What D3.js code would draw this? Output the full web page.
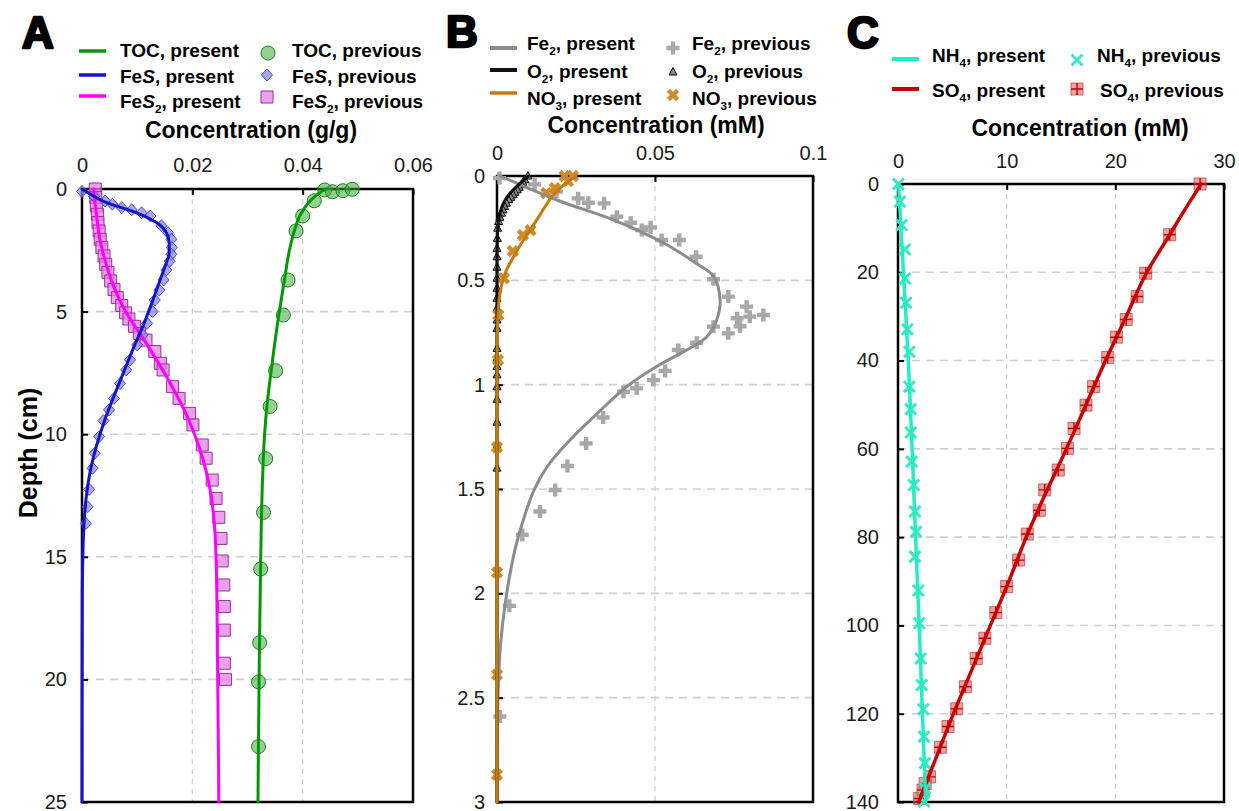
<!DOCTYPE html>
<html>
<head>
<meta charset="utf-8">
<script src="https://cdn.jsdelivr.net/npm/d3@7"></script>
<style>
  body { margin: 0; background: #fff; }
  svg { display: block; }
</style>
</head>
<body>
<svg id="chart" width="1239" height="811"></svg>
<script>
// ---- data: [depth, concentration] ----
// panel A (g/g)
var tocPresent = [[0,0.0442],[0.2,0.0428],[0.5,0.0413],[1,0.0397],[1.7,0.0385],[2.5,0.0376],[3.7,0.0367],[5.1,0.0357],[7.4,0.0343],[8.9,0.0335],[10,0.0331],[12,0.0327],[15,0.0324],[20,0.0321],[25,0.0319]];
var tocPrevious = [[0.04,0.0440],[0.11,0.0454],[0.07,0.0473],[0.01,0.0490],[0.48,0.0421],[1.1,0.0400],[1.71,0.0388],[3.71,0.03735],[5.14,0.0365],[7.41,0.0351],[8.87,0.0341],[11.0,0.0333],[13.19,0.0329],[15.5,0.0324],[18.5,0.0322],[20.1,0.0320],[22.74,0.0320]];
var fesPresent = [[0,0.0],[0.25,0.0018],[0.56,0.0045],[0.97,0.0099],[1.37,0.0135],[1.78,0.0153],[2.2,0.0158],[2.6,0.0158],[3.0,0.0153],[3.5,0.0145],[4.5,0.0129],[5.5,0.0112],[6.5,0.0093],[7.5,0.0075],[8.5,0.0057],[9.5,0.0040],[10.5,0.0026],[11.5,0.0015],[12.5,0.0008],[13.5,0.0004],[15,0.00015],[17,0.00005],[25,0.0]];
var fesPrevious = [[0.1,0.0],[0.3,0.0022],[0.49,0.0042],[0.62,0.0055],[0.76,0.0072],[0.85,0.0090],[0.97,0.0108],[1.1,0.0124],[1.5,0.0144],[1.78,0.0156],[2.05,0.0162],[2.39,0.0163],[2.66,0.0162],[2.94,0.0159],[3.3,0.0153],[3.71,0.0148],[4.12,0.0140],[4.53,0.0132],[5.0,0.0128],[5.48,0.0118],[5.95,0.0110],[6.36,0.0100],[6.97,0.0087],[7.38,0.0080],[7.93,0.0069],[8.54,0.0058],[9.01,0.0049],[9.45,0.0039],[10.1,0.0031],[10.78,0.0023],[11.39,0.0019],[12.25,0.0013],[12.96,0.0010],[13.64,0.0007]];
var fes2Present = [[0,0.0021],[1,0.0026],[2,0.0032],[3,0.0043],[4,0.0058],[5,0.0079],[6,0.0108],[7,0.0136],[8,0.0162],[9,0.0185],[10,0.0204],[11,0.0219],[12,0.0230],[13,0.0237],[15,0.0243],[20,0.0246],[25,0.0248]];
var fes2Previous = [[0.0,0.0024],[0.35,0.0025],[0.69,0.0026],[1.03,0.0028],[1.37,0.0029],[1.71,0.0031],[2.05,0.0033],[2.39,0.0036],[2.73,0.0040],[3.07,0.0043],[3.4,0.0047],[3.75,0.0052],[4.1,0.0058],[4.43,0.0064],[4.75,0.0072],[5.05,0.0079],[5.3,0.0085],[5.6,0.0095],[5.9,0.0104],[6.16,0.0116],[6.63,0.0132],[7.11,0.0142],[7.38,0.0147],[8.06,0.0164],[8.54,0.0176],[9.15,0.0195],[9.62,0.0201],[10.44,0.0218],[10.98,0.0225],[11.87,0.0236],[12.62,0.0243],[13.39,0.0248],[14.25,0.0252],[15.17,0.0254],[16.15,0.0257],[17.03,0.0258],[17.99,0.0258],[19.34,0.0258],[20.0,0.0260]];

// panel B (mM)
var fe2Present = [[0,0.001],[0.115,0.0189],[0.21,0.0368],[0.32,0.0526],[0.42,0.0632],[0.48,0.0685],[0.594,0.0706],[0.69,0.0695],[0.77,0.0664],[0.834,0.0600],[0.913,0.0505],[1.01,0.0410],[1.14,0.0316],[1.265,0.0231],[1.39,0.0160],[1.505,0.0117],[1.65,0.0083],[1.81,0.0054],[2.05,0.0026],[2.25,0.0011],[2.5,0.0003],[2.75,0.0001],[3,0]];
var fe2Previous = [[0.01,0.0008],[0.04,0.0119],[0.074,0.0188],[0.107,0.0257],[0.128,0.0289],[0.131,0.0339],[0.195,0.0379],[0.224,0.0423],[0.259,0.0458],[0.246,0.0486],[0.307,0.0521],[0.307,0.0577],[0.387,0.0630],[0.495,0.0685],[0.578,0.0732],[0.626,0.0790],[0.666,0.0843],[0.674,0.0800],[0.682,0.0760],[0.72,0.0769],[0.754,0.0732],[0.722,0.0685],[0.799,0.0632],[0.834,0.0574],[0.934,0.0532],[0.978,0.0495],[1.018,0.0442],[1.034,0.0400],[1.157,0.0336],[1.282,0.0282],[1.39,0.0223],[1.505,0.0184],[1.608,0.0136],[1.72,0.0080],[2.06,0.0039],[2.59,0.0009]];
var o2Present = [[0,0.0099],[0.035,0.0073],[0.083,0.0041],[0.131,0.0020],[0.195,0.0007],[0.27,0.0002],[0.4,0.0],[3,0.0]];
var o2Previous = [[0,0.0098],[0.018,0.0088],[0.03,0.0082],[0.042,0.0077],[0.054,0.0070],[0.066,0.0064],[0.078,0.0057],[0.09,0.0051],[0.102,0.0044],[0.114,0.0037],[0.13,0.0030],[0.146,0.0024],[0.162,0.0019],[0.178,0.0014],[0.198,0.0009],[0.218,0.0005],[0.25,0.0002],[0.299,0.0001],[0.347,0],[0.387,0],[0.437,0],[0.49,0],[0.538,0],[0.586,0],[0.634,0],[0.69,0],[0.73,0],[0.826,0],[0.874,0],[0.913,0],[0.953,0],[1.01,0],[1.07,0],[1.18,0],[1.29,0],[1.40,0]];
var no3Present = [[0,0.0250],[0.081,0.0183],[0.201,0.0130],[0.297,0.0088],[0.377,0.0056],[0.473,0.0024],[0.6,0.0006],[0.8,0.0001],[1.2,0],[3,0]];
var no3Previous = [[0.0,0.0214],[0.0,0.0240],[0.025,0.0225],[0.058,0.0183],[0.082,0.0156],[0.26,0.0106],[0.283,0.0082],[0.36,0.0050],[0.49,0.0022],[0.666,0.0004],[0.882,0.0003],[1.30,0.0],[1.90,0.0],[2.39,0.0],[2.87,0.0]];

// panel C (mM)
var nh4Present = [[0,0.05],[20,0.5],[40,0.95],[60,1.3],[80,1.62],[100,1.95],[120,2.25],[140,2.55]];
var nh4Previous = [[0,0.03],[4,0.18],[9.3,0.34],[14.8,0.64],[21.4,0.64],[26.9,0.74],[32.9,0.86],[38,1.04],[45.9,1.04],[51,1.17],[56.3,1.17],[62.9,1.26],[68.2,1.45],[74.2,1.56],[78.8,1.66],[84.4,1.56],[92.1,1.87],[99.5,1.96],[107.5,2.09],[113.5,2.18],[119,2.33],[125.2,2.39],[131.2,2.48],[136.9,2.48],[139.9,2.4]];
var so4Present = [[0,27.9],[5,26.6],[11.5,25.0],[20,22.9],[30,21.0],[40,19.1],[50,17.3],[60,15.5],[70,13.6],[80,11.8],[90,10.2],[100,8.5],[110,6.8],[120,5.1],[130,3.5],[140,1.9]];
var so4Previous = [[0,27.8],[11.5,25.0],[20.2,22.8],[25.5,22.0],[30.7,21.0],[34.7,20.1],[39.3,19.3],[45.9,18.0],[50.1,17.3],[55.4,16.2],[59.9,15.6],[64.8,14.75],[69.3,13.5],[73.9,13.0],[79.3,11.9],[85.2,11.1],[91.2,10.0],[97.1,9.0],[102.9,8.0],[107.5,7.2],[113.9,6.2],[118.9,5.4],[122.9,4.6],[127.6,3.9],[134.3,2.9],[135.8,2.5],[137.3,2.3],[139.2,2.0]];

// ticks
var ticksAx = [0, 0.02, 0.04, 0.06], labelsAx = ["0", "0.02", "0.04", "0.06"];
var ticksAy = [0, 5, 10, 15, 20, 25];
var ticksBx = [0, 0.05, 0.1], labelsBx = ["0", "0.05", "0.1"];
var ticksBy = [0, 0.5, 1, 1.5, 2, 2.5, 3], labelsBy = ["0", "0.5", "1", "1.5", "2", "2.5", "3"];
var ticksCx = [0, 10, 20, 30];
var ticksCy = [0, 20, 40, 60, 80, 100, 120, 140];

var FONT = "'Liberation Sans', Arial, Helvetica, sans-serif";
var svg = d3.select("#chart");

// marker shapes
var shapes = {
	circle: "M7,0A7,7 0 1,1 -7,0A7,7 0 1,1 7,0Z",
	diamond: "M0,-6L5.5,0L0,6L-5.5,0Z",
	square: "M-6,-6H6V6H-6Z",
	plus: "M-2.2,-6.5H2.2V-2.2H6.5V2.2H2.2V6.5H-2.2V2.2H-6.5V-2.2H-2.2Z",
	triangle: "M0,-4.5L4,3L-4,3Z",
	xthin: "M-5.5,-5.5L5.5,5.5M5.5,-5.5L-5.5,5.5",
	cross: "M-6,0H6M0,-6V6"
};

var styles = {
	toc: {shape: "circle", fill: "rgba(60,170,60,0.55)", stroke: "#1f7f1f", sw: 1},
	fes: {shape: "diamond", fill: "rgba(140,140,230,0.75)", stroke: "#4a4ac8", sw: 1},
	fes2: {shape: "square", fill: "rgba(230,130,230,0.75)", stroke: "#9a2f9a", sw: 1},
	fe2: {shape: "plus", fill: "#a8a8a8", stroke: "none", sw: 0},
	o2: {shape: "triangle", fill: "#8a8a8a", stroke: "#000", sw: 1},
	no3: {shape: "plus", fill: "#d08a2a", stroke: "none", sw: 0, rot: 45},
	nh4: {shape: "xthin", fill: "none", stroke: "#3ee6c3", sw: 3},
	so4: {shape: "square", fill: "rgba(215,90,90,0.55)", stroke: "rgba(200,70,70,0.8)", sw: 1, inner: "#c00000"}
};

function drawMarker(g, st, px, py) {
	var m = g.append("g").attr("transform", "translate(" + px + "," + py + ")" + (st.rot ? " rotate(" + st.rot + ")" : ""));
	m.append("path").attr("d", shapes[st.shape])
		.attr("fill", st.fill).attr("stroke", st.stroke).attr("stroke-width", st.sw);
	if (st.inner) {
		m.append("path").attr("d", shapes.cross).attr("stroke", st.inner).attr("stroke-width", 1.4).attr("fill", "none");
	}
}

function drawPoints(g, data, x, y, st) {
	var gg = g.append("g");
	data.forEach(function(d) { drawMarker(gg, st, x(d[1]), y(d[0])); });
}

function drawLine(g, data, x, y, color, w, curve) {
	var line = d3.line()
		.x(function(d) { return x(d[1]); })
		.y(function(d) { return y(d[0]); })
		.curve(curve || d3.curveMonotoneY);
	g.append("path").datum(data).attr("d", line)
		.attr("fill", "none").attr("stroke", color).attr("stroke-width", w)
		.attr("stroke-linejoin", "round").attr("stroke-linecap", "round");
}

// bold text with subscripts / italics: parts are strings or {sub:..} / {it:..}
function richText(g, px, py, parts, size, anchor) {
	var t = g.append("text").attr("x", px).attr("y", py)
		.attr("font-family", FONT).attr("font-weight", "bold").attr("font-size", size)
		.attr("fill", "#000").attr("text-anchor", anchor || "start");
	var shift = 0;
	parts.forEach(function(p) {
		var s = t.append("tspan");
		if (typeof p === "string") {
			s.text(p);
			if (shift) { s.attr("dy", -shift); shift = 0; }
		} else if (p.sub) {
			shift = Math.round(size * 0.25);
			s.text(p.sub).attr("font-size", size * 0.62).attr("dy", shift);
		} else if (p.it) {
			s.text(p.it).attr("font-style", "italic");
		}
	});
	return t;
}

function makePanel(p) {
	var x = d3.scaleLinear().domain(p.xDomain).range([p.left, p.right]);
	var y = d3.scaleLinear().domain(p.yDomain).range([p.top, p.bottom]);
	var g = svg.append("g");

	// dashed grid
	g.append("g").selectAll("line").data(p.xTicks.slice(1, -1)).join("line")
		.attr("x1", function(d) { return x(d); }).attr("x2", function(d) { return x(d); })
		.attr("y1", p.top).attr("y2", p.bottom)
		.attr("stroke", "#d2d2d2").attr("stroke-width", 1.3).attr("stroke-dasharray", "5,5");
	g.append("g").selectAll("line").data(p.yTicks.slice(1, -1)).join("line")
		.attr("x1", p.left).attr("x2", p.right)
		.attr("y1", function(d) { return y(d); }).attr("y2", function(d) { return y(d); })
		.attr("stroke", "#cfcfcf").attr("stroke-width", 1.6).attr("stroke-dasharray", "8,6");

	var ax = g.append("g").attr("transform", "translate(0," + p.top + ")")
		.call(d3.axisTop(x).tickValues(p.xTicks)
			.tickFormat(function(d, i) { return p.xLabels ? p.xLabels[i] : d; })
			.tickSizeInner(-6).tickSizeOuter(0).tickPadding(p.xPad));
	var ay = g.append("g").attr("transform", "translate(" + p.left + ",0)")
		.call(d3.axisLeft(y).tickValues(p.yTicks)
			.tickFormat(function(d, i) { return p.yLabels ? p.yLabels[i] : d; })
			.tickSizeInner(-6).tickSizeOuter(0).tickPadding(p.yPad));
	[ax, ay].forEach(function(a) {
		a.select(".domain").remove();
		a.selectAll("line").attr("stroke", "#000").attr("stroke-width", 2);
		a.selectAll("text").attr("font-family", FONT).attr("font-size", 20).attr("fill", "#1a1a1a");
	});

	g.append("rect").attr("x", p.left).attr("y", p.top)
		.attr("width", p.right - p.left).attr("height", p.bottom - p.top)
		.attr("fill", "none").attr("stroke", "#000").attr("stroke-width", 2.5);

	richText(g, p.titleX, p.titleY, [p.title], 23, "middle");
	g.append("text").attr("x", p.letterX).attr("y", p.letterY).text(p.letter)
		.attr("font-family", FONT).attr("font-weight", "bold").attr("font-size", 44)
		.attr("fill", "#000").attr("stroke", "#000").attr("stroke-width", 2.5).attr("stroke-linejoin", "round");

	return {g: g, x: x, y: y};
}

function legendRow(g, lx, ly, color, lw, parts, tx, ty) {
	g.append("line").attr("x1", lx).attr("x2", lx + 27).attr("y1", ly).attr("y2", ly)
		.attr("stroke", color).attr("stroke-width", lw);
	richText(g, tx, ty, parts, 19);
}
function legendMarker(g, st, mx, my, parts, tx, ty) {
	drawMarker(g, st, mx, my);
	richText(g, tx, ty, parts, 19);
}

// ---------- panel A ----------
var A = makePanel({left: 82, right: 413, top: 189, bottom: 802, xDomain: [0, 0.06], yDomain: [0, 25],
	xTicks: ticksAx, xLabels: labelsAx, yTicks: ticksAy, xPad: 17, yPad: 15,
	title: "Concentration (g/g)", titleX: 251, titleY: 138, letter: "A", letterX: 22, letterY: 48});
drawPoints(A.g, fes2Previous, A.x, A.y, styles.fes2);
drawPoints(A.g, fesPrevious, A.x, A.y, styles.fes);
drawPoints(A.g, tocPrevious, A.x, A.y, styles.toc);
drawLine(A.g, fes2Present, A.x, A.y, "#ff00ff", 3);
drawLine(A.g, fesPresent, A.x, A.y, "#1414c8", 3);
drawLine(A.g, tocPresent, A.x, A.y, "#009a00", 3);

richText(svg, 28, 453, ["Depth (cm)"], 25, "middle").attr("transform", "rotate(-90,28,453)").attr("dy", 9);

legendRow(svg, 79, 51, "#009a00", 3.5, ["TOC, present"], 120, 57);
legendRow(svg, 79, 75, "#1414c8", 3.5, ["Fe", {it: "S"}, ", present"], 120, 83);
legendRow(svg, 79, 96, "#ff00ff", 3.5, ["Fe", {it: "S"}, {sub: "2"}, ", present"], 120, 108);
legendMarker(svg, styles.toc, 268, 53, ["TOC, previous"], 292, 57);
legendMarker(svg, styles.fes, 267, 75, ["Fe", {it: "S"}, ", previous"], 292, 83);
legendMarker(svg, styles.fes2, 267, 97, ["Fe", {it: "S"}, {sub: "2"}, ", previous"], 292, 108);

// ---------- panel B ----------
var B = makePanel({left: 497, right: 813, top: 176, bottom: 802, xDomain: [0, 0.1], yDomain: [0, 3],
	xTicks: ticksBx, xLabels: labelsBx, yTicks: ticksBy, yLabels: labelsBy, xPad: 16, yPad: 12,
	title: "Concentration (mM)", titleX: 656, titleY: 133, letter: "B", letterX: 446, letterY: 47});
drawPoints(B.g, fe2Previous, B.x, B.y, styles.fe2);
drawPoints(B.g, o2Previous, B.x, B.y, styles.o2);
drawPoints(B.g, no3Previous, B.x, B.y, styles.no3);
var smooth = d3.curveCatmullRom.alpha(0.5);
drawLine(B.g, fe2Present, B.x, B.y, "#8c8c8c", 3, smooth);
drawLine(B.g, o2Present, B.x, B.y, "#111", 3);
drawLine(B.g, no3Present, B.x, B.y, "#c27c0e", 3, smooth);

legendRow(svg, 490, 48, "#8c8c8c", 4, ["Fe", {sub: "2"}, ", present"], 527, 50);
legendRow(svg, 490, 70, "#111", 4, ["O", {sub: "2"}, ", present"], 527, 78);
legendRow(svg, 490, 93, "#c27c0e", 3.5, ["NO", {sub: "3"}, ", present"], 527, 105);
legendMarker(svg, styles.fe2, 673, 48, ["Fe", {sub: "2"}, ", previous"], 692, 50);
legendMarker(svg, styles.o2, 673, 72, ["O", {sub: "2"}, ", previous"], 692, 78);
legendMarker(svg, styles.no3, 673, 95, ["NO", {sub: "3"}, ", previous"], 692, 105);

// ---------- panel C ----------
var C = makePanel({left: 898, right: 1224, top: 184, bottom: 802, xDomain: [0, 30], yDomain: [0, 140],
	xTicks: ticksCx, yTicks: ticksCy, xPad: 16, yPad: 19,
	title: "Concentration (mM)", titleX: 1080, titleY: 136, letter: "C", letterX: 847, letterY: 48});
drawPoints(C.g, so4Previous, C.x, C.y, styles.so4);
drawPoints(C.g, nh4Previous, C.x, C.y, styles.nh4);
drawLine(C.g, so4Present, C.x, C.y, "#c80000", 3.5);
drawLine(C.g, nh4Present, C.x, C.y, "#22eec4", 3.5);

legendRow(svg, 892, 59, "#22eec4", 4, ["NH", {sub: "4"}, ", present"], 932, 62);
legendRow(svg, 892, 89, "#c80000", 4, ["SO", {sub: "4"}, ", present"], 932, 97);
legendMarker(svg, styles.nh4, 1077, 60, ["NH", {sub: "4"}, ", previous"], 1097, 62);
legendMarker(svg, styles.so4, 1077, 89, ["SO", {sub: "4"}, ", previous"], 1100, 97);
</script>
</body>
</html>
